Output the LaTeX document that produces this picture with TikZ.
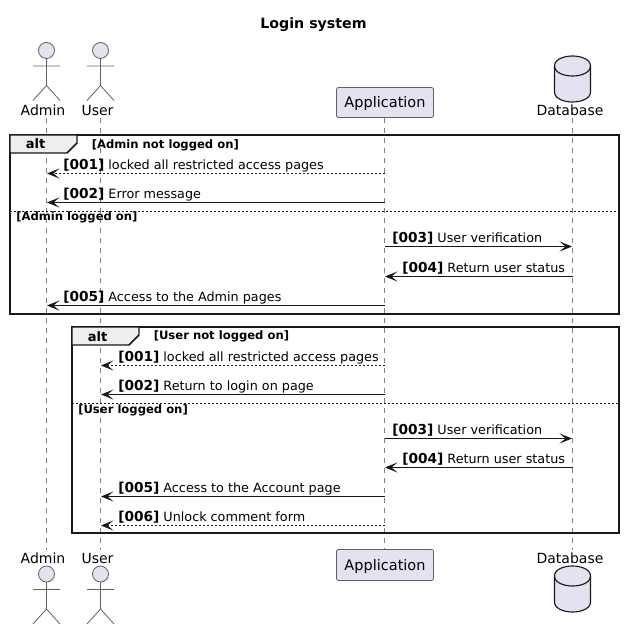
\documentclass[tikz,border=0pt]{standalone}
\usepackage{fontspec}
\setmainfont{DejaVu Sans}
\usetikzlibrary{arrows.meta}
\definecolor{partfill}{HTML}{E2E2F0}
\definecolor{ink}{HTML}{181818}
\definecolor{tabfill}{HTML}{EEEEEE}
\definecolor{life}{HTML}{808080}
\definecolor{partedge}{HTML}{606060}
\newcommand{\fpx}[1]{\fontsize{\dimexpr #1pt*3/4\relax}{\dimexpr #1pt*9/10\relax}\selectfont}
\newcommand{\mnum}[1]{{\fpx{13.7}\bfseries #1}}
\tikzset{
  x=0.75pt,y=-0.75pt,
  lifeline/.style={draw=life,line width=0.6pt,dash pattern=on 3.75pt off 3.75pt},
  partline/.style={draw=partedge,line width=0.6pt,fill=partfill},
  framebox/.style={draw=ink,line width=1.1pt},
  tabbox/.style={draw=ink,line width=1.1pt,fill=tabfill},
  divider/.style={draw=ink,line width=0.6pt,dash pattern=on 1.5pt off 1.5pt},
  tip/.style={-{Stealth[length=9.4pt,width=7.6pt,inset=4.6pt]},color=ink,line width=0.75pt},
  solidmsg/.style={tip},
  dotmsg/.style={tip,dash pattern=on 1.5pt off 1.5pt},
  msgtext/.style={inner sep=0pt,anchor=base west,text=black,font=\fpx{12.77}},
  partname/.style={inner sep=0pt,anchor=base,text=black,font=\fpx{14}},
  appname/.style={inner sep=0pt,anchor=base,text=black,font=\fpx{14.5}},
  grouptext/.style={inner sep=0pt,anchor=base west,text=black,font=\fpx{11.6}\bfseries},
}
\newcommand{\msgline}[7]{% name, style, from x, to x, y, text x, text
  \coordinate (#1s) at (#3,#5);
  \coordinate (#1e) at (#4,#5);
  \draw[#2] (#1s) -- (#1e);
  \node[msgtext] (#1t) at (#6,#5-4.2) {#7};
}
\newcommand{\stickman}[3]{% name, x, head y
  \draw[partline] (#2,#3) circle (6pt);
  \draw[partline,fill=none] (#2,#3+8) -- (#2,#3+35) (#2-13.5,#3+15.5) -- (#2+13.5,#3+15.5)
    (#2-13.5,#3+50) -- (#2,#3+35) -- (#2+13.5,#3+50);
}
\newcommand{\dbshape}[2]{% x, top y
  \draw[draw=ink,line width=0.85pt,fill=partfill] (#1-18,#2+10) .. controls (#1-18,#2+3) and (#1-8,#2) .. (#1,#2)
    .. controls (#1+8,#2) and (#1+18,#2+3) .. (#1+18,#2+10) -- (#1+18,#2+36)
    .. controls (#1+18,#2+43) and (#1+8,#2+46) .. (#1,#2+46)
    .. controls (#1-8,#2+46) and (#1-18,#2+43) .. (#1-18,#2+36) -- cycle;
  \draw[draw=ink,line width=0.85pt] (#1-18,#2+10) .. controls (#1-18,#2+17) and (#1-8,#2+20) .. (#1,#2+20)
    .. controls (#1+8,#2+20) and (#1+18,#2+17) .. (#1+18,#2+10);
}
\begin{document}
\begin{tikzpicture}
\useasboundingbox (0,0) rectangle (625,630);
\node[inner sep=0pt,anchor=base,font=\fpx{14.2}\bfseries] (title) at (313.5,28.5) {Login system};

% lifelines
\coordinate (adminT) at (46.5,118); \coordinate (adminB) at (46.5,550);
\coordinate (userT) at (100.5,118); \coordinate (userB) at (100.5,550);
\coordinate (appT) at (384.5,118); \coordinate (appB) at (384.5,550);
\coordinate (dbT) at (572.5,118); \coordinate (dbB) at (572.5,550);
\draw[lifeline] (adminT) -- (adminB);
\draw[lifeline] (userT) -- (userB);
\draw[lifeline] (appT) -- (appB);
\draw[lifeline] (dbT) -- (dbB);

% participants, top
\stickman{adminA}{46.5}{50.5}
\stickman{userA}{100.5}{50.5}
\node[partname] (adminL) at (43,115.5) {Admin};
\node[partname] (userL) at (97.5,115.5) {User};
\draw[partline,rounded corners=1.5pt] (336.5,87.5) rectangle (433.5,117.5);
\node[appname] (appL) at (385,107.5) {Application};
\dbshape{572.5}{56}
\node[partname] (dbL) at (570,115.5) {Database};

% participants, bottom
\stickman{adminC}{46.5}{574}
\stickman{userC}{100.5}{574}
\node[partname] (adminM) at (43,563) {Admin};
\node[partname] (userM) at (97.5,563) {User};
\draw[partline,rounded corners=1.5pt] (336.5,549.5) rectangle (433.5,580.5);
\node[appname] (appM) at (385,570) {Application};
\dbshape{572.5}{566}
\node[partname] (dbM) at (570,563) {Database};

% frame 1
\draw[framebox] (10,135) rectangle (619,314);
\draw[tabbox] (10,135) -- (77,135) -- (77,143) -- (67,153) -- (10,153) -- cycle;
\node[inner sep=0pt,anchor=base,font=\fpx{13}\bfseries] (alt1) at (35.5,149) {alt};
\node[grouptext] (g1) at (91.5,148.5) {[Admin not logged on]};
\draw[divider] (10,211.5) -- (619,211.5);
\node[grouptext] (g2) at (16,220.5) {[Admin logged on]};

\msgline{a}{dotmsg}{384.5}{47}{173.5}{63}{\mnum{[001]} locked all restricted access pages}
\msgline{b}{solidmsg}{384.5}{47}{202.5}{63}{\mnum{[002]} Error message}
\msgline{c}{solidmsg}{384.5}{572}{246.5}{392}{\mnum{[003]} User verification}
\msgline{d}{solidmsg}{572.5}{385}{276.5}{402}{\mnum{[004]} Return user status}
\msgline{e}{solidmsg}{384.5}{47}{305.5}{63}{\mnum{[005]} Access to the Admin pages}

% frame 2
\draw[framebox] (72,327) rectangle (619,533);
\draw[tabbox] (72,327) -- (139,327) -- (139,335) -- (129,345) -- (72,345) -- cycle;
\node[inner sep=0pt,anchor=base,font=\fpx{13}\bfseries] (alt2) at (97.5,341) {alt};
\node[grouptext] (g3) at (153.5,339.5) {[User not logged on]};
\draw[divider] (72,403.5) -- (619,403.5);
\node[grouptext] (g4) at (78,413.5) {[User logged on]};

\msgline{f}{dotmsg}{384.5}{101}{365.5}{118}{\mnum{[001]} locked all restricted access pages}
\msgline{g}{solidmsg}{384.5}{101}{394.5}{118}{\mnum{[002]} Return to login on page}
\msgline{h}{solidmsg}{384.5}{572}{438.5}{392}{\mnum{[003]} User verification}
\msgline{i}{solidmsg}{572.5}{385}{467.5}{402}{\mnum{[004]} Return user status}
\msgline{j}{solidmsg}{384.5}{101}{496.5}{118}{\mnum{[005]} Access to the Account page}
\msgline{k}{dotmsg}{384.5}{101}{525.5}{118}{\mnum{[006]} Unlock comment form}
\end{tikzpicture}
\end{document}
